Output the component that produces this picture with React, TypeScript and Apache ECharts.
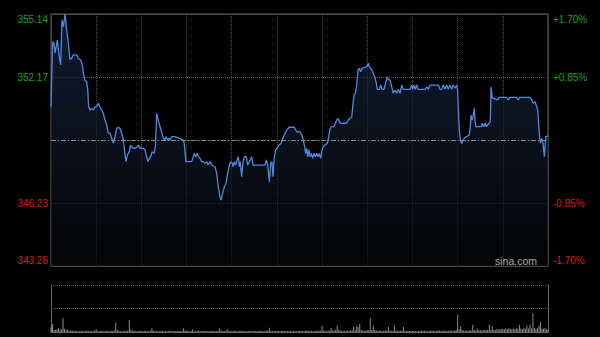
import React, { useEffect, useRef } from "react";
import * as echarts from "echarts";

const PREV_CLOSE = 349.2;
const STEP = 2.97;

// minutes from open (0..330, HK session 9:30-12:00 & 13:00-16:00)
const minutes = [
  0, 1.1, 2.0, 2.7, 4.2, 5.5, 6.4, 7.3, 8.2, 9.3, 10.4, 11.5, 12.6, 13.7, 14.8, 17.1, 18.1, 19.7, 20.8, 21.4,
  22.4, 23.7, 24.4, 25.0, 25.9, 27.0, 28.1, 29.2, 30.3, 31.4, 32.5, 33.7, 34.7, 35.9, 37.0, 38.0, 39.2, 40.3, 41.4, 42.5,
  43.6, 44.7, 45.8, 46.9, 48.0, 49.1, 49.8, 50.7, 52.0, 52.9, 54.2, 55.8, 56.9, 58.0, 59.1, 61.3, 62.4, 63.5, 64.4, 65.3,
  66.2, 67.1, 68.4, 69.3, 70.2, 71.2, 72.4, 73.7, 74.6, 75.5, 76.4, 77.2, 78.2, 79.0, 80.3, 82.3,
  87.8, 88.5, 89.6, 93.4, 94.5, 95.1, 96.1, 96.9, 97.8, 98.9, 100.1, 101.1, 102.3, 103.4, 104.4, 105.6, 106.7, 108.9, 110.0, 111.1,
  112.2, 112.9, 113.7, 115.1, 116.2, 117.3, 118.2, 119.1, 120.4, 121.0, 121.7, 122.6, 123.5, 124.4, 125.0, 125.7, 126.6, 127.5, 128.4, 129.7,
  130.6, 132.3, 133.3, 134.1, 142.1, 143.0, 143.9, 145.0, 145.9, 146.7, 147.4, 148.3, 149.2, 150.1, 151.4, 152.7, 153.6, 154.5, 155.4, 156.7,
  158.0, 161.5, 163.2, 165.3,
  166.5, 167.5, 168.5, 169.1, 169.8, 170.4, 171.3, 172.0, 172.8, 173.8, 174.6, 175.5, 176.4, 177.3, 178.1, 179.1, 179.9, 180.8, 181.9, 183.5,
  184.4, 185.3, 186.4, 187.9, 188.8, 189.7, 190.6, 191.4, 192.4, 196.3, 197.4, 199.7, 200.3, 201.2, 202.1, 203.0, 203.8, 204.7, 205.6, 206.5,
  209.6, 210.7, 211.3, 212.3, 213.1, 214.0, 214.9, 215.8, 216.7, 218.0, 218.9, 219.8, 221.1, 222.4, 223.3, 224.2, 225.1, 226.2, 227.3, 228.4,
  229.5, 230.6, 231.7, 232.9, 233.9, 238.4, 239.5, 240.2, 241.0, 241.9, 242.8, 243.7, 248.3,
  249.5, 250.5, 251.7, 257.2, 258.3, 259.4, 260.5, 261.6, 262.7, 263.8, 264.9, 266.1, 267.1, 268.3, 269.4, 270.0, 270.4, 271.1, 271.8, 272.7,
  273.6, 274.4, 275.8, 276.7, 277.7, 278.4, 278.9, 279.5, 280.2, 281.1, 281.5, 282.2, 285.5, 286.4, 287.3, 288.2, 289.1, 290.8, 291.7, 292.2,
  293.0, 296.6, 297.5, 302.6, 303.6, 304.8, 309.2, 310.3, 311.4, 318.1, 319.2, 320.2, 321.4, 322.5, 323.2, 323.6, 324.3, 324.9, 325.9, 326.7,
  327.6, 328.5, 330,
];

const prices = [
  350.77, 353.83, 353.76, 353.29, 353.91, 353.13, 352.74, 354.86, 354.54, 355.14, 354.39, 353.76, 353.0, 353.05, 353.21, 353.21, 353.05, 352.97, 352.74, 352.42,
  352.03, 351.95, 351.56, 350.77, 350.61, 350.69, 350.61, 350.77, 350.77, 350.93, 350.77, 350.61, 350.46, 350.14, 349.91, 349.52, 349.52, 349.28, 349.04, 349.36,
  349.75, 349.8, 349.75, 349.52, 349.2, 348.57, 348.18, 348.49, 348.65, 348.96, 348.81, 348.81, 348.86, 348.96, 348.81, 348.81, 348.73, 348.41, 348.18, 348.34,
  348.41, 348.65, 348.57, 348.88, 350.46, 350.14, 349.83, 349.52, 349.28, 349.2, 349.36, 349.2, 349.28, 349.2, 349.36, 349.36,
  349.2, 349.04, 348.18, 348.18, 348.41, 348.57, 348.41, 348.57, 348.41, 348.34, 348.18, 348.18, 348.1, 348.18, 348.02, 348.18, 348.02, 347.94, 347.63, 347.0,
  346.53, 346.37, 346.61, 347.0, 347.16, 347.63, 347.94, 348.18, 348.1, 347.94, 348.18, 348.02, 348.26, 348.41, 347.94, 348.18, 347.47, 348.18, 348.41, 348.41,
  348.02, 348.26, 348.41, 348.02, 348.02, 348.26, 348.02, 347.23, 348.1, 348.18, 347.47, 348.41, 348.73, 348.81, 348.96, 349.04, 349.2, 349.36, 349.52, 349.67,
  349.8, 349.8, 349.59, 349.59,
  349.44, 349.2, 348.88, 348.57, 348.81, 348.41, 348.73, 348.41, 348.57, 348.34, 348.57, 348.41, 348.57, 348.41, 348.57, 348.34, 348.73, 348.88, 348.96, 349.04,
  349.36, 349.75, 349.83, 349.83, 349.99, 350.14, 350.22, 350.06, 349.99, 349.99, 350.14, 350.3, 350.77, 351.32, 351.4, 351.79, 352.5, 352.58, 352.42, 352.58,
  352.66, 352.82, 352.66, 352.58, 352.5, 352.34, 352.18, 351.95, 351.59, 351.59, 351.79, 351.59, 351.59, 351.95, 352.18, 352.03, 352.03, 351.71, 351.4, 351.56,
  351.4, 351.59, 351.4, 351.79, 351.59, 351.59, 351.79, 351.59, 351.79, 351.59, 351.79, 351.59, 351.59,
  351.71, 351.59, 351.79, 351.79, 351.59, 351.59, 351.79, 351.59, 351.79, 351.59, 351.79, 351.59, 351.79, 351.64, 351.79, 351.56, 350.77, 349.67, 349.2, 349.04,
  349.2, 349.28, 349.36, 349.39, 349.44, 349.83, 350.38, 350.14, 350.3, 350.69, 350.14, 349.83, 349.83, 349.99, 349.83, 349.99, 349.83, 349.99, 350.06, 351.71,
  351.17, 351.09, 351.21, 351.21, 351.09, 351.21, 351.21, 351.09, 351.21, 351.21, 351.09, 350.93, 351.01, 350.77, 350.61, 350.14, 349.44, 349.04, 349.28, 349.04,
  348.41, 349.36, 349.39,
];

// per-minute volume (relative units)
const volumes = [
  20, 34, 10, 8, 12, 17, 10, 12, 58, 14, 10, 8, 6, 5, 6, 4, 5, 4, 3, 4, 5, 4, 3, 4, 6, 5, 4, 3, 4, 5,
  12, 4, 3, 5, 4, 3, 4, 5, 3, 4, 5, 4, 6, 40, 8, 5, 4, 3, 4, 5, 4, 6, 51, 10, 6, 5, 4, 3, 4, 5,
  4, 3, 4, 5, 4, 3, 6, 16, 5, 4, 3, 4, 3, 5, 4, 3, 4, 3, 4, 5, 3, 4, 3, 4, 5, 4, 3, 4, 16, 6,
  5, 4, 3, 5, 12, 4, 3, 4, 5, 4, 3, 4, 5, 4, 3, 4, 3, 5, 4, 3, 4, 5, 16, 6, 4, 5, 4, 12, 5, 4,
  3, 4, 5, 4, 3, 4, 5, 4, 3, 4, 3, 5, 4, 3, 4, 5, 4, 3, 4, 5, 4, 3, 4, 5, 6, 18, 5, 4, 3, 4,
  5, 4, 3, 4, 5, 4, 3, 4, 5, 4, 3, 5, 4, 3, 4, 5, 4, 3, 4, 5, 6, 4, 5, 4, 3, 4, 5, 4, 6, 5,
  27, 6, 5, 4, 6, 5, 17, 6, 5, 8, 28, 9, 6, 5, 4, 5, 6, 5, 4, 8, 6, 22, 10, 28, 20, 34, 8, 6, 5, 6,
  7, 8, 58, 9, 28, 8, 6, 5, 6, 5, 4, 5, 6, 5, 22, 6, 5, 4, 28, 6, 5, 4, 5, 6, 22, 5, 4, 5, 4, 5,
  4, 5, 4, 3, 4, 5, 6, 4, 5, 4, 3, 4, 5, 6, 4, 5, 4, 5, 6, 5, 4, 6, 5, 4, 5, 6, 5, 4, 6, 8,
  75, 12, 24, 8, 6, 5, 6, 5, 7, 6, 31, 8, 6, 14, 7, 8, 6, 7, 8, 9, 8, 31, 10, 25, 9, 10, 12, 11, 13, 12,
  14, 12, 15, 13, 16, 14, 12, 15, 13, 16, 14, 31, 15, 13, 16, 14, 28, 15, 31, 16, 80, 17, 14, 16, 28, 43, 15, 14, 18, 12,
  10,
];

const GREEN = "#18a418";
const RED = "#dc1c1c";
const FONT = 'Arial, "Liberation Sans", sans-serif';

export default function App() {
  const ref = useRef<HTMLDivElement>(null);

  useEffect(() => {
    if (!ref.current) return;
    const chart = echarts.init(ref.current, undefined, { renderer: "svg" });

    const rs = (color: string, pad?: number[]) => ({
      color,
      fontSize: 10,
      fontFamily: FONT,
      padding: pad || [0, 0, 0, 0],
    });
    const rich = {
      g: rs(GREEN),
      r: rs(RED),
      gT: rs(GREEN, [10, 0, 0, 0]),
      rB: rs(RED, [0, 0, 12, 0]),
    };
    const key = (v: number) => (v > 0 ? "g" : "r") + (v === 2 ? "T" : v === -2 ? "B" : "");

    const lineData = minutes.map((m, i) => [m, (prices[i] - PREV_CLOSE) / STEP]);
    const volData = volumes.map((v, i) => [i, v]);

    const option = {
      animation: false,
      backgroundColor: "#000",
      grid: [
        { left: 51, top: 14, width: 497, height: 252, show: true, borderColor: "#666", borderWidth: 1, backgroundColor: "transparent" },
        { left: 51, top: 285, width: 497, height: 47 },
      ],
      xAxis: [
        {
          type: "value", gridIndex: 0, min: 0, max: 330, interval: 30,
          axisLine: { show: false }, axisTick: { show: false }, axisLabel: { show: false },
          splitLine: { show: true, lineStyle: { color: "#4a4a4a", type: "dotted", width: 1 } },
        },
        {
          type: "value", gridIndex: 1, min: 0, max: 330, interval: 30,
          axisLine: { show: true, lineStyle: { color: "#666" } }, axisTick: { show: false }, axisLabel: { show: false },
          splitLine: { show: false },
        },
      ],
      yAxis: [
        {
          type: "value", gridIndex: 0, min: -2, max: 2, interval: 1, position: "left",
          axisLine: { show: false }, axisTick: { show: false },
          splitLine: { show: true, lineStyle: { color: "#5a5a5a", type: "dotted", width: 1 } },
          axisLabel: {
            margin: 3, fontSize: 10, fontFamily: FONT, rich,
            formatter: (v: number) => (v === 0 ? "" : `{${key(v)}|${(PREV_CLOSE + v * STEP).toFixed(2)}}`),
          },
        },
        {
          type: "value", gridIndex: 0, min: -2, max: 2, interval: 1, position: "right",
          axisLine: { show: false }, axisTick: { show: false }, splitLine: { show: false },
          axisLabel: {
            margin: 5, fontSize: 10, fontFamily: FONT, rich,
            formatter: (v: number) =>
              v === 0 ? "" : `{${key(v)}|${v > 0 ? "+" : ""}${((v * STEP) / PREV_CLOSE * 100).toFixed(2)}%}`,
          },
        },
        {
          type: "value", gridIndex: 1, min: 0, max: 200, interval: 100, position: "left",
          axisLine: { show: true, lineStyle: { color: "#666" } }, axisTick: { show: false }, axisLabel: { show: false },
          splitLine: { show: true, lineStyle: { color: "#5a5a5a", type: "dotted", width: 1 } },
        },
        {
          type: "value", gridIndex: 1, min: 0, max: 200, interval: 100, position: "right",
          axisLine: { show: true, lineStyle: { color: "#666" } }, axisTick: { show: false }, axisLabel: { show: false },
          splitLine: { show: false },
        },
      ],
      series: [
        {
          type: "line",
          xAxisIndex: 0,
          yAxisIndex: 0,
          data: lineData,
          symbol: "none",
          lineStyle: { color: "#5088de", width: 1.3 },
          areaStyle: {
            origin: "start",
            color: new echarts.graphic.LinearGradient(0, 0, 0, 1, [
              { offset: 0, color: "#172843" },
              { offset: 1, color: "#06070a" },
            ]),
          },
          markLine: {
            silent: true,
            symbol: ["none", "none"],
            label: { show: false },
            lineStyle: { color: "#8a8a8a", type: [5, 2, 1, 2], width: 1 },
            data: [{ yAxis: 0 }],
          },
          z: 3,
        },
        {
          type: "bar",
          xAxisIndex: 1,
          yAxisIndex: 2,
          data: volData,
          barWidth: 1,
          itemStyle: { color: "#8a8a8a" },
        },
      ],
      graphic: [
        {
          type: "text",
          right: 63,
          top: 255,
          z: 10,
          style: { text: "sina.com", fill: "#a8a8a8", fontSize: 10.5, fontFamily: FONT },
        },
      ],
    };

    chart.setOption(option as any);
    return () => chart.dispose();
  }, []);

  return (
    <div
      ref={ref}
      style={{ position: "absolute", left: 0, top: 0, width: 600, height: 337, background: "#000" }}
    />
  );
}
